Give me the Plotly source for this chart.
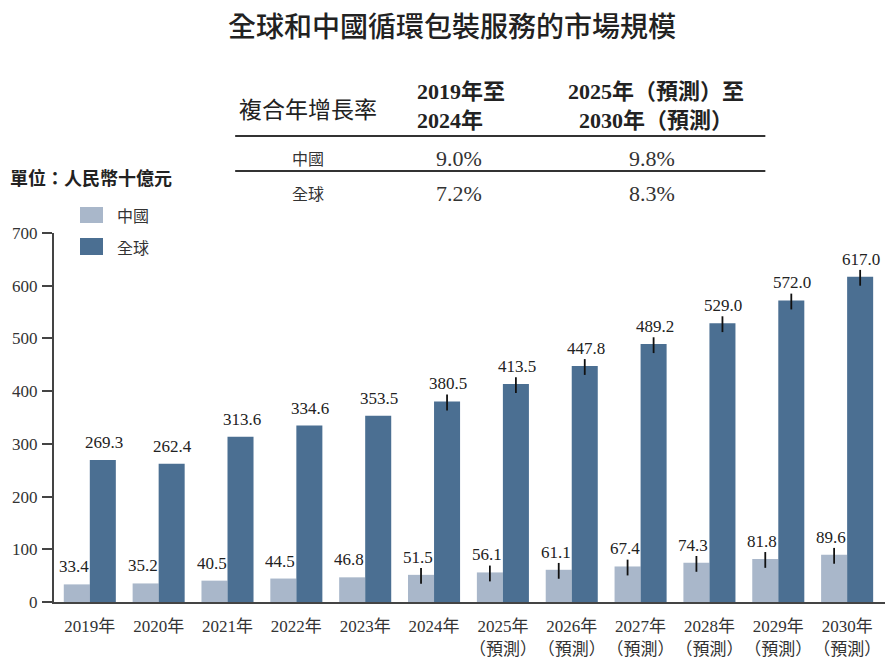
import plotly.graph_objects as go

categories = ["2019年", "2020年", "2021年", "2022年", "2023年", "2024年",
              "2025年<br>（預測）", "2026年<br>（預測）", "2027年<br>（預測）",
              "2028年<br>（預測）", "2029年<br>（預測）", "2030年<br>（預測）"]
china = [33.4, 35.2, 40.5, 44.5, 46.8, 51.5, 56.1, 61.1, 67.4, 74.3, 81.8, 89.6]
globe = [269.3, 262.4, 313.6, 334.6, 353.5, 380.5, 413.5, 447.8, 489.2, 529.0, 572.0, 617.0]
tick_up = [0, 0, 0, 0, 0, 13, 13, 13, 13, 13, 13, 13]
tick_down = [0, 0, 0, 0, 0, 17, 17, 17, 17, 17, 17, 17]
y_ticks = [0, 100, 200, 300, 400, 500, 600, 700]

cagr_header = ["複合年增長率", "2019年至<br>2024年", "2025年（預測）至<br>2030年（預測）"]
cagr_rows = [("中國", "9.0%", "9.8%"), ("全球", "7.2%", "8.3%")]

C_CHINA = "#a9b7ca"
C_GLOBE = "#4b6f92"
SERIF = '"Liberation Serif", "Times New Roman", "Noto Sans CJK TC", serif'
SANS = '"Noto Sans CJK TC", sans-serif'

err = dict(type="data", symmetric=False, array=tick_up, arrayminus=tick_down,
           color="#111111", thickness=1.8, width=0)

fig = go.Figure()
fig.add_trace(go.Bar(name="中國", x=categories, y=china, marker_color=C_CHINA,
                     marker_line_width=0, error_y=err))
fig.add_trace(go.Bar(name="全球", x=categories, y=globe, marker_color=C_GLOBE,
                     marker_line_width=0, error_y=err))

ann = []
for c, v in zip(categories, china):
    ann.append(dict(x=c, y=v, xref="x", yref="y", text=f"{v:.1f}", showarrow=False,
                    xanchor="center", yanchor="bottom", xshift=-16, yshift=6,
                    font=dict(family=SERIF, size=17, color="#222")))
for c, v in zip(categories, globe):
    ann.append(dict(x=c, y=v, xref="x", yref="y", text=f"{v:.1f}", showarrow=False,
                    xanchor="center", yanchor="bottom", xshift=14, yshift=6,
                    font=dict(family=SERIF, size=17, color="#222")))

# CAGR table
ann.append(dict(x=0.306, y=1.339, xref="paper", yref="paper", text=cagr_header[0],
                showarrow=False, xanchor="center", yanchor="middle",
                font=dict(family=SANS, size=23, color="#222")))
ann.append(dict(x=0.434, y=1.344, xref="paper", yref="paper",
                text="<b>" + cagr_header[1].replace("<br>", "</b><br><b>") + "</b>",
                showarrow=False, xanchor="left", yanchor="middle", align="left",
                font=dict(family=SERIF, size=22, color="#222")))
ann.append(dict(x=0.725, y=1.344, xref="paper", yref="paper",
                text="<b>" + cagr_header[2].replace("<br>", "</b><br><b>") + "</b>",
                showarrow=False, xanchor="center", yanchor="middle", align="center",
                font=dict(family=SERIF, size=22, color="#222")))
for (name, a, b), yy in zip(cagr_rows, [1.203, 1.108]):
    ann.append(dict(x=0.306, y=yy, xref="paper", yref="paper", text=name, showarrow=False,
                    xanchor="center", yanchor="middle",
                    font=dict(family=SANS, size=16, color="#333")))
    ann.append(dict(x=0.487, y=yy, xref="paper", yref="paper", text=a, showarrow=False,
                    xanchor="center", yanchor="middle",
                    font=dict(family=SERIF, size=22, color="#333")))
    ann.append(dict(x=0.720, y=yy, xref="paper", yref="paper", text=b, showarrow=False,
                    xanchor="center", yanchor="middle",
                    font=dict(family=SERIF, size=22, color="#333")))

ann.append(dict(x=-0.0554, y=1.152, xref="paper", yref="paper", text="單位：人民幣十億元",
                showarrow=False, xanchor="left", yanchor="middle",
                font=dict(family=SANS, size=18, color="#222", weight=600)))

# legend
ann.append(dict(x=0.0734, y=1.0488, xref="paper", yref="paper", text="中國", showarrow=False,
                xanchor="left", yanchor="middle", font=dict(family=SANS, size=16, color="#333")))
ann.append(dict(x=0.0734, y=0.962, xref="paper", yref="paper", text="全球", showarrow=False,
                xanchor="left", yanchor="middle", font=dict(family=SANS, size=16, color="#333")))

shapes = [
    dict(type="line", xref="paper", yref="paper", x0=0.218, x1=0.856, y0=1.263, y1=1.263,
         line=dict(color="#333", width=2)),
    dict(type="line", xref="paper", yref="paper", x0=0.218, x1=0.856, y0=1.168, y1=1.168,
         line=dict(color="#333", width=2)),
    dict(type="rect", xref="paper", yref="paper", x0=0.0313, x1=0.0590, y0=1.0271, y1=1.0705,
         fillcolor=C_CHINA, line_width=0),
    dict(type="rect", xref="paper", yref="paper", x0=0.0313, x1=0.0590, y0=0.9404, y1=0.9865,
         fillcolor=C_GLOBE, line_width=0),
]

fig.update_layout(
    width=888, height=656,
    margin=dict(l=46, r=11, t=225, b=62, autoexpand=False),
    paper_bgcolor="white", plot_bgcolor="white",
    barmode="group", bargap=0.244, bargroupgap=0,
    showlegend=False,
    title=dict(text="全球和中國循環包裝服務的市場規模", x=0.5, xanchor="center",
               y=1 - 19 / 656, yanchor="middle",
               font=dict(family=SANS, size=28, color="#222", weight=500)),
    annotations=ann, shapes=shapes,
    xaxis=dict(type="category", range=[-0.52, 11.55], showgrid=False, automargin=False,
               showline=True, linecolor="#444", linewidth=2, ticks="", tickangle=0,
               tickfont=dict(family=SERIF, size=17, color="#333"), ticklabelstandoff=8),
    yaxis=dict(range=[0, 700], tickvals=y_ticks, showgrid=False, zeroline=False, automargin=False,
               showline=True, linecolor="#444", linewidth=2, ticks="outside",
               ticklen=10, tickwidth=2, tickcolor="#444",
               tickfont=dict(family=SERIF, size=17, color="#333"), ticklabelstandoff=1),
)

fig.write_html("out.html")
